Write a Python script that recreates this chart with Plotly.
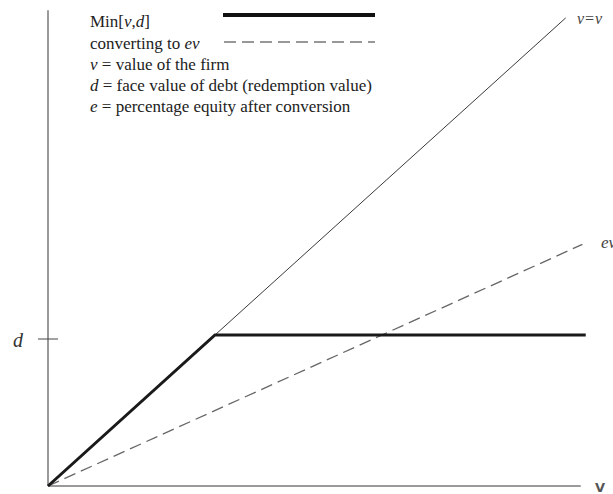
import plotly.graph_objects as go

# ---- data (units: d = 1) ----
d = 1.0                 # face value of debt
e = 0.5                 # equity share after conversion
v_line_x = [0.0, 3.1]   # v = v line
min_x = [0.0, 1.0, 3.22]
ev_x = [0.0, 3.2]
x_axis_end = 3.19
y_axis_top = 3.15

legend_lines = [
    "Min[<i>v</i>,<i>d</i>]",
    "converting to <i>ev</i>",
    "<i>v</i> = value of the firm",
    "<i>d</i> = face value of debt (redemption value)",
    "<i>e</i> = percentage equity after conversion",
]

W, H = 613, 494
X0, Y0 = 48, 486          # pixel position of origin
SX, SY = 167.0, 151.0     # pixels per unit

SERIF = "Liberation Serif, Times New Roman, serif"

fig = go.Figure()

# v = v line
fig.add_trace(go.Scatter(x=v_line_x, y=v_line_x, mode="lines",
                         line=dict(color="#3a3a3a", width=1), hoverinfo="skip"))
# converting to ev
fig.add_trace(go.Scatter(x=ev_x, y=[e * v for v in ev_x], mode="lines",
                         line=dict(color="#666666", width=1.3, dash="12px,6px"),
                         hoverinfo="skip"))
# Min[v, d]
fig.add_trace(go.Scatter(x=min_x, y=[min(v, d) for v in min_x], mode="lines",
                         line=dict(color="#1a1a1a", width=3), hoverinfo="skip"))

shapes = [
    # axes
    dict(type="line", xref="x", yref="y", x0=0, y0=0, x1=x_axis_end, y1=0,
         line=dict(color="#9a9a9a", width=2), layer="below"),
    dict(type="line", xref="x", yref="y", x0=0, y0=0, x1=0, y1=y_axis_top,
         line=dict(color="#9a9a9a", width=2), layer="below"),
    # d tick
    dict(type="line", xref="x", yref="y", xsizemode="pixel", xanchor=0,
         x0=-10, x1=10, ysizemode="pixel", yanchor=d, y0=-4, y1=-4,
         line=dict(color="#444444", width=1)),
    # legend samples
    dict(type="line", xref="paper", yref="paper", x0=223 / W, x1=375 / W,
         y0=1 - 15 / H, y1=1 - 15 / H, line=dict(color="#111111", width=4)),
    dict(type="line", xref="paper", yref="paper", x0=224 / W, x1=375 / W,
         y0=1 - 42 / H, y1=1 - 42 / H,
         line=dict(color="#777777", width=1.3, dash="12px,6px")),
]

annotations = []
legend_y = [21, 44, 65, 85, 106]
for txt, yy in zip(legend_lines, legend_y):
    annotations.append(dict(text=txt, xref="paper", yref="paper", x=88 / W,
                            y=1 - yy / H, xanchor="left", yanchor="middle",
                            showarrow=False,
                            font=dict(family=SERIF, size=17, color="#222222")))

annotations += [
    dict(text="<i>v=v</i>", xref="paper", yref="paper", x=575 / W, y=1 - 18 / H,
         xanchor="left", yanchor="middle", showarrow=False,
         font=dict(family=SERIF, size=16, color="#444444")),
    dict(text="<i>ev</i>", xref="paper", yref="paper", x=599 / W, y=1 - 243 / H,
         xanchor="left", yanchor="middle", showarrow=False,
         font=dict(family=SERIF, size=17, color="#444444")),
    dict(text="<i>d</i>", xref="paper", yref="paper", x=18 / W, y=1 - 340 / H,
         xanchor="center", yanchor="middle", showarrow=False,
         font=dict(family=SERIF, size=20, color="#333333")),
    dict(text="<b>V</b>", xref="paper", yref="paper", x=600 / W, y=1 - 487 / H,
         xanchor="center", yanchor="middle", showarrow=False,
         font=dict(family="DejaVu Sans, sans-serif", size=13, color="#555555")),
]

fig.update_layout(
    width=W, height=H,
    margin=dict(l=0, r=0, t=0, b=0),
    paper_bgcolor="white", plot_bgcolor="white",
    showlegend=False,
    shapes=shapes, annotations=annotations,
    xaxis=dict(range=[-X0 / SX, (W - X0) / SX], visible=False, fixedrange=True),
    yaxis=dict(range=[-(H - Y0) / SY, Y0 / SY], visible=False, fixedrange=True),
)

fig.write_html("out.html", config={"displayModeBar": False},
               post_script="document.body.style.margin='0';"
                           "document.body.style.overflow='hidden';")
